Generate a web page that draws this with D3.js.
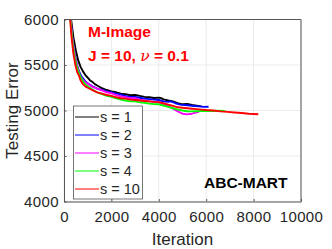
<!DOCTYPE html>
<html>
<head>
<meta charset="utf-8">
<script src="https://cdn.jsdelivr.net/npm/d3@7"></script>
<style>
  body { margin: 0; background: #fff; }
  svg { display: block; font-family: "Liberation Sans", Arial, sans-serif; }
</style>
</head>
<body>
<svg id="chart" width="332" height="249"></svg>
<script>
// values: [iteration, testing error]
const s1 = [[250,6150],[300,6000],[400,5800],[500,5660],[600,5550],[700,5480],[800,5430],[900,5390],[1000,5360],[1100,5330],[1200,5315],[1300,5290],[1400,5275],[1600,5245],[1800,5225],[2000,5210],[2200,5200],[2400,5185],[2600,5180],[2800,5168],[3000,5172],[3200,5160],[3400,5150],[3600,5145],[3800,5138],[4000,5142],[4100,5135],[4200,5122],[4400,5110],[4600,5100],[4800,5080],[5000,5068],[5200,5072],[5400,5060],[5600,5052],[5800,5045]];
const s2 = [[230,6150],[280,6000],[350,5800],[450,5620],[550,5500],[650,5420],[750,5370],[900,5320],[1000,5300],[1200,5265],[1400,5240],[1600,5225],[1800,5210],[2000,5200],[2200,5185],[2400,5175],[2600,5160],[2800,5150],[3000,5150],[3200,5140],[3400,5130],[3600,5125],[3800,5120],[4000,5115],[4200,5100],[4400,5095],[4500,5100],[4700,5080],[4900,5065],[5100,5060],[5300,5055],[5500,5050],[5700,5045],[5900,5040],[6100,5042]];
const s3 = [[230,6150],[280,6000],[350,5800],[450,5620],[550,5490],[650,5400],[750,5350],[900,5310],[1000,5295],[1200,5260],[1400,5240],[1600,5220],[1800,5200],[2000,5190],[2200,5170],[2400,5155],[2600,5145],[2800,5135],[3000,5135],[3200,5120],[3400,5110],[3600,5100],[3800,5095],[4000,5090],[4200,5070],[4400,5050],[4600,5020],[4800,4990],[5000,4965],[5200,4958],[5400,4965],[5600,4980],[5700,4985]];
const s4 = [[230,6150],[270,6000],[340,5800],[430,5620],[520,5500],[600,5430],[700,5370],[800,5320],[900,5290],[1000,5265],[1200,5230],[1400,5200],[1600,5180],[1800,5160],[2000,5150],[2200,5135],[2400,5120],[2600,5110],[2800,5100],[3000,5100],[3200,5090],[3400,5085],[3600,5075],[3800,5070],[4000,5068],[4200,5055],[4400,5040],[4600,5025],[4800,5010],[5000,5000],[5200,4992],[5400,4990],[5600,4992],[5800,4995],[6000,4995],[6200,4995],[6500,4998],[6800,4995]];
const s10 = [[220,6150],[260,6000],[320,5800],[400,5620],[480,5500],[560,5420],[640,5380],[700,5330],[800,5290],[900,5265],[1000,5250],[1200,5225],[1400,5200],[1600,5185],[1800,5170],[2000,5160],[2200,5145],[2400,5135],[2600,5130],[2800,5120],[3000,5115],[3200,5110],[3400,5105],[3600,5100],[3800,5095],[4000,5092],[4200,5080],[4400,5065],[4600,5050],[4800,5035],[5000,5030],[5200,5025],[5400,5020],[5600,5015],[5800,5010],[6000,5005],[6300,5000],[6600,4990],[6900,4985],[7200,4978],[7500,4972],[7800,4965],[8000,4962],[8200,4958]];

const seriesNames = ['s = 1', 's = 2', 's = 3', 's = 4', 's = 10'];
const seriesColors = ['#000000', '#0000ff', '#ff00ff', '#00ff00', '#ff0000'];
const seriesData = [s1, s2, s3, s4, s10];
const xTicks = [0, 2000, 4000, 6000, 8000, 10000];
const yTicks = [4000, 4500, 5000, 5500, 6000];

const svg = d3.select('#chart');
const margin = { top: 19.5, right: 31, bottom: 47.5, left: 64 };
const width = 332, height = 249;
const innerWidth = width - margin.left - margin.right;
const innerHeight = height - margin.top - margin.bottom;

const x = d3.scaleLinear().domain([0, 10000]).range([0, innerWidth]);
const y = d3.scaleLinear().domain([4000, 6000]).range([innerHeight, 0]);

const g = svg.append('g').attr('transform', `translate(${margin.left},${margin.top})`);

// grid
g.append('g').selectAll('line').data(xTicks).join('line')
  .attr('x1', d => x(d)).attr('x2', d => x(d))
  .attr('y1', 0).attr('y2', innerHeight)
  .attr('stroke', '#e6e6e6').attr('stroke-width', 0.8);
g.append('g').selectAll('line').data(yTicks).join('line')
  .attr('y1', d => y(d)).attr('y2', d => y(d))
  .attr('x1', 0).attr('x2', innerWidth)
  .attr('stroke', '#e6e6e6').attr('stroke-width', 0.8);

g.append('clipPath').attr('id', 'clip')
  .append('rect').attr('width', innerWidth).attr('height', innerHeight);

const line = d3.line().x(d => x(d[0])).y(d => y(d[1]));

g.append('g').attr('clip-path', 'url(#clip)')
  .selectAll('path').data(seriesData).join('path')
  .attr('d', line)
  .attr('fill', 'none')
  .attr('stroke', (d, i) => seriesColors[i])
  .attr('stroke-width', 1.9)
  .attr('stroke-linejoin', 'round');

// axes (inward ticks, box)
const fmt = d3.format('d');
const xAxis = g.append('g').attr('transform', `translate(0,${innerHeight})`)
  .call(d3.axisBottom(x).tickValues(xTicks).tickFormat(fmt).tickSizeInner(-2.5).tickSizeOuter(0).tickPadding(10));
const yAxis = g.append('g')
  .call(d3.axisLeft(y).tickValues(yTicks).tickFormat(fmt).tickSizeInner(-2.5).tickSizeOuter(0).tickPadding(5));
[xAxis, yAxis].forEach(a => {
  a.select('.domain').attr('stroke', '#555');
  a.selectAll('.tick line').attr('stroke', '#555');
  a.selectAll('.tick text').attr('fill', '#262626').style('font-size', '15px')
    .style('letter-spacing', '0.4px')
    .style('font-family', '"Liberation Sans", Arial, sans-serif');
});
g.append('line').attr('x1', 0).attr('x2', innerWidth).attr('y1', 0).attr('y2', 0).attr('stroke', '#555');
g.append('line').attr('x1', innerWidth).attr('x2', innerWidth).attr('y1', 0).attr('y2', innerHeight).attr('stroke', '#555');

// axis labels
svg.append('text').attr('x', margin.left + innerWidth / 2).attr('y', 245)
  .attr('text-anchor', 'middle').attr('fill', '#262626').style('font-size', '17px').text('Iteration');
svg.append('text').attr('transform', `translate(18,${margin.top + innerHeight / 2}) rotate(-90)`)
  .attr('text-anchor', 'middle').attr('fill', '#262626').style('font-size', '17px').text('Testing Error');

// annotations
svg.append('text').attr('x', 88).attr('y', 37).attr('fill', '#ff0000')
  .style('font-size', '15.5px').style('font-weight', 'bold').text('M-Image');
const jt = svg.append('text').attr('x', 88).attr('y', 61).attr('fill', '#ff0000')
  .style('font-size', '15.5px').style('font-weight', 'bold');
jt.append('tspan').text('J = 10, ');
jt.append('tspan').style('font-style', 'italic').style('font-family', '"DejaVu Serif", serif').style('font-weight', 'normal').text('ν');
jt.append('tspan').text(' = 0.1');
svg.append('text').attr('x', 204).attr('y', 188).attr('fill', '#000')
  .style('font-size', '15.5px').style('font-weight', 'bold').text('ABC-MART');

// legend
const legend = svg.append('g').attr('transform', 'translate(73.5,106)');
legend.append('rect').attr('width', 69).attr('height', 93)
  .attr('fill', '#fff').attr('stroke', '#555').attr('stroke-width', 0.8);
const items = legend.selectAll('g.item').data(seriesNames).join('g')
  .attr('class', 'item')
  .attr('transform', (d, i) => `translate(0,${11 + i * 18})`);
items.append('line').attr('x1', 1.5).attr('x2', 25.5).attr('y1', 0).attr('y2', 0)
  .attr('stroke', (d, i) => seriesColors[i]).attr('stroke-width', 1);
items.append('text').attr('x', 26.5).attr('y', 5).attr('fill', '#262626')
  .style('font-size', '14.5px').text(d => d);
</script>
</body>
</html>
